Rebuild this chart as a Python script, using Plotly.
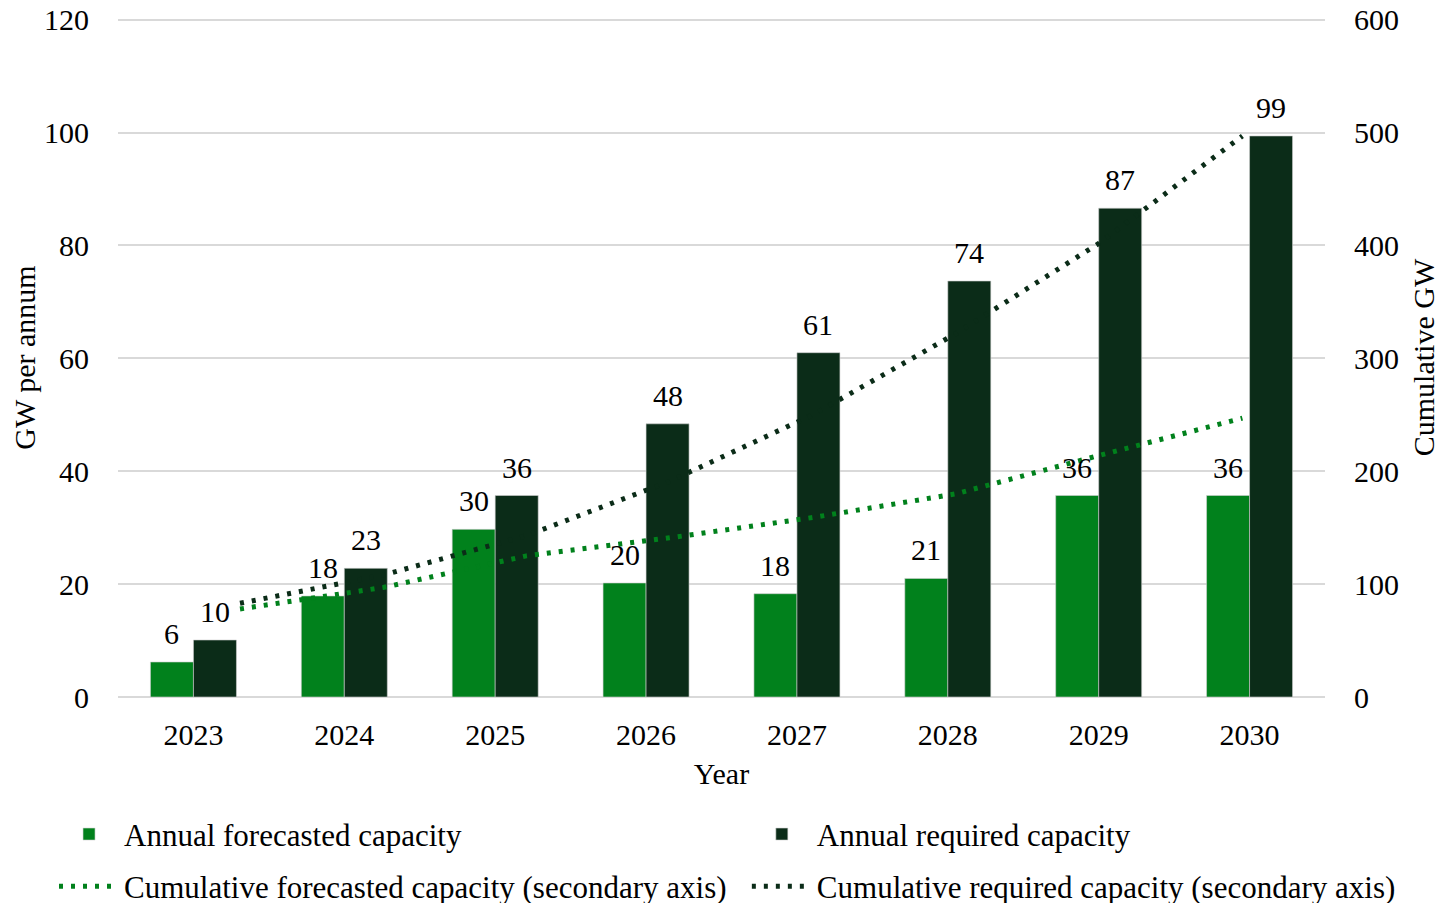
import plotly.graph_objects as go

years = ["2023", "2024", "2025", "2026", "2027", "2028", "2029", "2030"]
years_num = [2023, 2024, 2025, 2026, 2027, 2028, 2029, 2030]
annual_forecast = [6.2, 17.9, 29.7, 20.2, 18.3, 21.0, 35.7, 35.7]
annual_required = [10.1, 22.8, 35.7, 48.4, 61.0, 73.7, 86.6, 99.4]
cum_forecast = [78, 97, 125, 141, 159, 180, 214, 247]
cum_required = [83, 108, 143, 191, 250, 322, 402, 497]

GREEN = "#01811c"
DARK = "#0b2c18"
FONT = "Liberation Serif"
FS = 30

fig = go.Figure()
fig.add_trace(go.Bar(
    x=years, y=annual_forecast, name="Annual forecasted capacity",
    marker=dict(color=GREEN, line=dict(color="#d0d0d0", width=0.6)),
    legend="legend",
))
fig.add_trace(go.Bar(
    x=years, y=annual_required, name="Annual required capacity",
    marker=dict(color=DARK, line=dict(color="#d0d0d0", width=0.6)),
    legend="legend2",
))
fig.add_trace(go.Scatter(
    x=years_num, y=cum_forecast, name="Cumulative forecasted capacity (secondary axis)",
    mode="lines", line=dict(color=GREEN, width=5, dash="4px,8px"),
    xaxis="x2", yaxis="y2", legend="legend3",
))
fig.add_trace(go.Scatter(
    x=years_num, y=cum_required, name="Cumulative required capacity (secondary axis)",
    mode="lines", line=dict(color=DARK, width=5, dash="4px,8px"),
    xaxis="x2", yaxis="y2", legend="legend4",
))

# value labels above bars (derived from the data arrays)
BAR_HALF = 21.5
for series, shift in ((annual_forecast, -BAR_HALF), (annual_required, BAR_HALF)):
    for idx, val in enumerate(series):
        fig.add_annotation(
            x=idx, y=val, xref="x", yref="y", text=f"{val:.0f}",
            showarrow=False, yanchor="bottom", xanchor="center",
            xshift=shift, yshift=10,
            font=dict(size=FS, color="black", family=FONT),
        )

tickfont = dict(size=FS, color="black", family=FONT)
legfont = dict(size=31, family=FONT, color="black")


def leg(x, y):
    return dict(orientation="h", x=x, xanchor="left", y=y, yanchor="top",
                font=legfont, bgcolor="rgba(0,0,0,0)", itemwidth=60)


fig.update_layout(
    width=1446, height=903,
    margin=dict(l=110, r=129, t=10, b=214, autoexpand=False),
    plot_bgcolor="white", paper_bgcolor="white",
    barmode="group", bargap=0.43, bargroupgap=0,
    font=dict(family=FONT, size=FS, color="black"),
    xaxis=dict(
        type="category", range=[-0.5, 7.5], tickfont=tickfont,
        showgrid=False, showline=False, ticks="", ticklabelstandoff=17,
        title=dict(text="Year", font=dict(size=FS, family=FONT), standoff=12),
    ),
    xaxis2=dict(
        overlaying="x", range=[2022.148, 2030.577], visible=False,
    ),
    yaxis=dict(
        range=[0, 120.3], dtick=20, tickfont=tickfont, ticklabeloverflow="allow",
        gridcolor="#d9d9d9", gridwidth=2, zeroline=True, zerolinecolor="#d9d9d9", zerolinewidth=2,
        ticks="", ticklabelstandoff=28,
        title=dict(text="GW per annum", font=dict(size=FS, family=FONT), standoff=22),
    ),
    yaxis2=dict(
        overlaying="y", side="right", range=[0, 601.5], dtick=100, tickfont=tickfont,
        ticklabeloverflow="allow",
        showgrid=False, zeroline=False, ticks="", ticklabelstandoff=28,
        title=dict(text="Cumulative GW", font=dict(size=FS, family=FONT), standoff=14),
    ),
    legend=leg(-0.053, -0.1626),
    legend2=leg(0.521, -0.1626),
    legend3=leg(-0.053, -0.2396),
    legend4=leg(0.521, -0.2396),
    showlegend=True,
)

fig.write_html("out.html")
